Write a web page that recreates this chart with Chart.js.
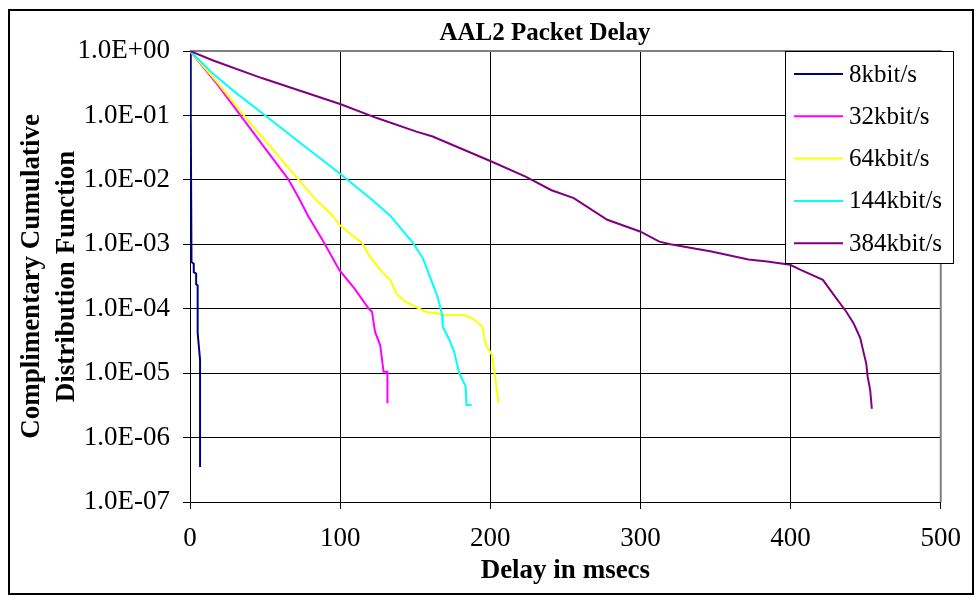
<!DOCTYPE html>
<html>
<head>
<meta charset="utf-8">
<title>AAL2 Packet Delay</title>
<script src="https://cdn.jsdelivr.net/npm/chart.js@4/dist/chart.umd.min.js"></script>
<style>
  body { margin: 0; background: #fff; }
  #chart { display: block; }
</style>
</head>
<body>
<canvas id="chart" width="975" height="596"></canvas>
<script>
// delay in msecs / complementary CDF
var delay8 = [0, 0.5, 1.0, 2.5, 2.5, 4.1, 4.1, 5.1, 5.1, 6.7, 6.7];
var ccdf8 = [1, 0.1, 5.3e-4, 5.0e-4, 3.7e-4, 3.5e-4, 2.4e-4, 2.3e-4, 4.2e-5, 1.6e-5, 3.5e-7];

var delay32 = [0, 17, 33.6, 49.5, 65.4, 73.1, 78.5, 89.5, 99.4, 109.2, 119.1, 121.2, 123.2, 126.7, 128.9, 131.5, 131.5];
var ccdf32 = [1, 0.33, 0.1, 0.032, 0.0103, 4.9e-3, 2.8e-3, 1.04e-3, 4.0e-4, 2.1e-4, 1.0e-4, 9e-5, 4.4e-5, 2.7e-5, 1.05e-5, 1.05e-5, 3.4e-6];

var delay64 = [0, 18, 35.8, 54, 71.9, 84, 94.9, 99.4, 114.7, 119.1, 126.7, 133.3, 137.6, 143.1, 151.9, 157.4, 165, 168.3, 182.5, 188, 194.6, 197.2, 201.2, 203.8, 205.5];
var ccdf64 = [1, 0.33, 0.1, 0.032, 0.0103, 4.9e-3, 2.8e-3, 2.0e-3, 1.04e-3, 6.8e-4, 4.0e-4, 2.8e-4, 1.7e-4, 1.3e-4, 1.02e-4, 8.9e-5, 8.5e-5, 8e-5, 8e-5, 7.1e-5, 5.3e-5, 2.7e-5, 1.9e-5, 6.9e-6, 3.4e-6];

var delay144 = [0, 15, 30, 50.1, 75, 100.4, 121.2, 133.2, 148.6, 155.2, 160.6, 165, 167.9, 168.3, 172.7, 176, 179.3, 183.6, 184.1, 187.5];
var ccdf144 = [1, 0.45, 0.23, 0.1, 0.035, 0.0122, 4.9e-3, 2.8e-3, 1.04e-3, 6e-4, 2.8e-4, 1.5e-4, 8e-5, 5.3e-5, 3.3e-5, 2.1e-5, 1e-5, 6.2e-6, 3.2e-6, 3.2e-6];

var delay384 = [0, 15, 47.8, 100.4, 124.5, 150.8, 161.6, 200, 223.5, 240.8, 255.6, 277.9, 299.7, 312.6, 319.9, 347.3, 371.9, 384.4, 399.7, 406.7, 421.5, 429.1, 437.2, 442, 446.4, 448.6, 450.4, 451.3, 453, 454.1];
var ccdf384 = [1, 0.72, 0.38, 0.149, 0.091, 0.056, 0.047, 0.0196, 0.0112, 6.9e-3, 5.2e-3, 2.4e-3, 1.58e-3, 1.1e-3, 1.0e-3, 7.7e-4, 5.8e-4, 5.4e-4, 4.8e-4, 4.0e-4, 2.8e-4, 1.6e-4, 8.9e-5, 5.9e-5, 3.5e-5, 2.1e-5, 1.4e-5, 8.8e-6, 5.5e-6, 2.8e-6];

var seriesNames = ['8kbit/s', '32kbit/s', '64kbit/s', '144kbit/s', '384kbit/s'];
var seriesColors = ['#000080', '#FF00FF', '#FFFF00', '#00FFFF', '#800080'];
var yTicks = [1, 1e-1, 1e-2, 1e-3, 1e-4, 1e-5, 1e-6, 1e-7];

var serif = "'Liberation Serif', 'Times New Roman', serif";

function toPoints(xs, ys) {
  return xs.map(function(x, i) { return {x: x, y: ys[i]}; });
}

function expLabel(v) {
  var e = Math.round(Math.log10(v));
  var sign = e < 0 ? '-' : '+';
  var n = Math.abs(e);
  return '1.0E' + sign + (n < 10 ? '0' + n : n);
}

var allData = [
  toPoints(delay8, ccdf8),
  toPoints(delay32, ccdf32),
  toPoints(delay64, ccdf64),
  toPoints(delay144, ccdf144),
  toPoints(delay384, ccdf384)
];

var datasets = seriesNames.map(function(name, i) {
  return {
    label: name,
    data: allData[i],
    borderColor: seriesColors[i],
    backgroundColor: seriesColors[i],
    borderWidth: 2,
    pointRadius: 0,
    fill: false,
    tension: 0,
    order: seriesNames.length - i
  };
});

// white page, outer frame, grey plot border
var framePlugin = {
  id: 'frame',
  beforeDraw: function(chart) {
    var ctx = chart.ctx;
    ctx.save();
    ctx.fillStyle = '#fff';
    ctx.fillRect(0, 0, chart.width, chart.height);
    ctx.strokeStyle = '#000';
    ctx.lineWidth = 2;
    ctx.strokeRect(9, 10, 964, 584);
    ctx.restore();
  },
  beforeDatasetsDraw: function(chart) {
    var a = chart.chartArea;
    var ctx = chart.ctx;
    ctx.save();
    ctx.strokeStyle = '#808080';
    ctx.lineWidth = 2;
    ctx.beginPath();
    ctx.moveTo(a.left, a.top);
    ctx.lineTo(a.right, a.top);
    ctx.lineTo(a.right, a.bottom);
    ctx.stroke();
    ctx.restore();
  },
  afterDatasetsDraw: function(chart) {
    var ctx = chart.ctx;
    ctx.save();
    // chart title
    ctx.fillStyle = '#000';
    ctx.font = 'bold 25px ' + serif;
    ctx.textAlign = 'center';
    ctx.textBaseline = 'middle';
    ctx.fillText('AAL2 Packet Delay', 545, 34);

    // legend box
    var lx = 785, ly = 51, lw = 168, lh = 212;
    ctx.fillStyle = '#fff';
    ctx.fillRect(lx, ly, lw, lh);
    ctx.strokeStyle = '#000';
    ctx.lineWidth = 1;
    ctx.strokeRect(lx + 0.5, ly + 0.5, lw, lh);
    ctx.font = '25px ' + serif;
    ctx.textAlign = 'left';
    chart.data.datasets.forEach(function(ds, i) {
      var y = 74 + i * 42.3;
      ctx.strokeStyle = ds.borderColor;
      ctx.lineWidth = 2;
      ctx.beginPath();
      ctx.moveTo(794, y);
      ctx.lineTo(843, y);
      ctx.stroke();
      ctx.fillStyle = '#000';
      ctx.fillText(ds.label, 849, y + 1);
    });
    ctx.restore();
  }
};

var chart = new Chart(document.getElementById('chart'), {
  type: 'line',
  data: { datasets: datasets },
  options: {
    responsive: false,
    animation: false,
    devicePixelRatio: 1,
    layout: { padding: { left: 0, right: 24, top: 51, bottom: 0 } },
    plugins: {
      legend: { display: false },
      title: { display: false },
      tooltip: { enabled: false }
    },
    scales: {
      x: {
        type: 'linear',
        min: 0,
        max: 500,
        ticks: {
          stepSize: 100,
          color: '#000',
          padding: 14,
          maxRotation: 0,
          font: { family: serif, size: 27 }
        },
        grid: { color: '#000', lineWidth: 1, tickLength: 7, tickColor: '#000' },
        border: { display: true, color: '#000', width: 1 },
        title: {
          display: true,
          text: 'Delay in msecs',
          color: '#000',
          font: { family: serif, size: 27, weight: 'bold' },
          padding: { top: 0, bottom: 9 }
        },
        afterFit: function(scale) { scale.height = 94; }
      },
      y: {
        type: 'logarithmic',
        min: 1e-7,
        max: 1,
        afterBuildTicks: function(scale) {
          scale.ticks = yTicks.map(function(v) { return {value: v}; });
        },
        ticks: {
          color: '#000',
          padding: 13,
          font: { family: serif, size: 27 },
          callback: function(v) { return expLabel(v); }
        },
        grid: { color: '#000', lineWidth: 1, tickLength: 7, tickColor: '#000' },
        border: { display: true, color: '#000', width: 1 },
        title: {
          display: true,
          text: ['Complimentary Cumulative', 'Distribution Function'],
          color: '#000',
          font: { family: serif, size: 27, weight: 'bold', lineHeight: 1.3 },
          padding: { top: 14, bottom: 0 }
        },
        afterFit: function(scale) { scale.width = 190; }
      }
    }
  },
  plugins: [framePlugin]
});
</script>
</body>
</html>
